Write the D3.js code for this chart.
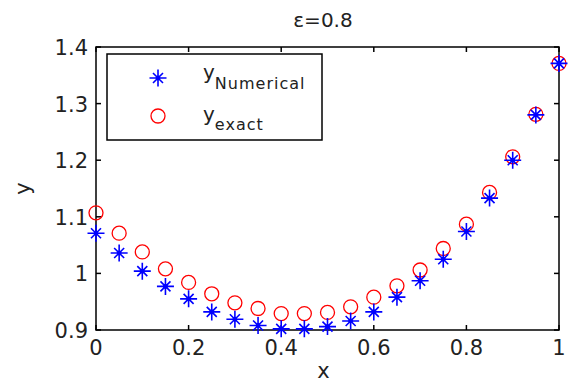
<!DOCTYPE html>
<html lang="en">
<head>
  <meta charset="UTF-8">
  <title>epsilon = 0.8</title>
  <script src="https://d3js.org/d3.v7.min.js"></script>
  <style>
    body { margin: 0; background: #fff; font-family: "DejaVu Sans", sans-serif; }
    .frame { fill: none; stroke: #000; stroke-width: 1.5; }
    .tick-label { font-size: 21px; fill: #222; }
    .star { fill: none; stroke: #0000ff; stroke-width: 1.6; }
    .circ { fill: none; stroke: #ff0000; stroke-width: 1.3; }
  </style>
</head>
<body>
  <svg width="570" height="382"></svg>
  <script>
    const xValues = [0, 0.05, 0.1, 0.15, 0.2, 0.25, 0.3, 0.35, 0.4, 0.45, 0.5,
                     0.55, 0.6, 0.65, 0.7, 0.75, 0.8, 0.85, 0.9, 0.95, 1];
    const yNumerical = [1.071, 1.036, 1.004, 0.977, 0.955, 0.932, 0.919, 0.908, 0.902, 0.902, 0.906,
                        0.916, 0.932, 0.958, 0.987, 1.025, 1.074, 1.133, 1.200, 1.280, 1.371];
    const yExact = [1.107, 1.071, 1.038, 1.008, 0.984, 0.964, 0.948, 0.938, 0.929, 0.929, 0.931,
                    0.941, 0.958, 0.978, 1.006, 1.044, 1.087, 1.143, 1.206, 1.281, 1.371];
    const xTicks = [0, 0.2, 0.4, 0.6, 0.8, 1];
    const yTicks = [0.9, 1, 1.1, 1.2, 1.3, 1.4];

    const svg = d3.select("svg");
    const margin = {top: 47, right: 11, bottom: 52, left: 96};
    const width = 570 - margin.left - margin.right,
          height = 382 - margin.top - margin.bottom;

    const x = d3.scaleLinear().domain([0, 1]).range([0, width]);
    const y = d3.scaleLinear().domain([0.9, 1.4]).range([height, 0]);

    const g = svg.append("g").attr("transform", `translate(${margin.left},${margin.top})`);

    // star marker: plus with shorter diagonals
    function starPath(cx, cy) {
      const a = 8.5, b = 5;
      return `M${cx - a},${cy}L${cx + a},${cy}M${cx},${cy - a}L${cx},${cy + a}` +
             `M${cx - b},${cy - b}L${cx + b},${cy + b}M${cx - b},${cy + b}L${cx + b},${cy - b}`;
    }

    // frame
    g.append("rect").attr("class", "frame")
      .attr("x", 0).attr("y", 0).attr("width", width).attr("height", height);

    // ticks, inward on all four sides
    const tl = 5;
    xTicks.forEach(t => {
      g.append("line").attr("class", "frame")
        .attr("x1", x(t)).attr("x2", x(t)).attr("y1", height).attr("y2", height - tl);
      g.append("line").attr("class", "frame")
        .attr("x1", x(t)).attr("x2", x(t)).attr("y1", 0).attr("y2", tl);
      g.append("text").attr("class", "tick-label")
        .attr("x", x(t)).attr("y", height + 25)
        .attr("text-anchor", "middle")
        .text(d3.format("~g")(t));
    });
    yTicks.forEach(t => {
      g.append("line").attr("class", "frame")
        .attr("x1", 0).attr("x2", tl).attr("y1", y(t)).attr("y2", y(t));
      g.append("line").attr("class", "frame")
        .attr("x1", width).attr("x2", width - tl).attr("y1", y(t)).attr("y2", y(t));
      g.append("text").attr("class", "tick-label")
        .attr("x", -8).attr("y", y(t) + 8)
        .attr("text-anchor", "end")
        .text(d3.format("~g")(t));
    });

    // data
    const pts = xValues.map((v, i) => ({x: v, num: yNumerical[i], ex: yExact[i]}));

    g.selectAll(".circ").data(pts).enter().append("circle")
      .attr("class", "circ")
      .attr("cx", d => x(d.x)).attr("cy", d => y(d.ex)).attr("r", 7);

    g.selectAll(".star").data(pts).enter().append("path")
      .attr("class", "star")
      .attr("d", d => starPath(x(d.x), y(d.num)));
    g.selectAll(".dotc").data(pts).enter().append("circle")
      .attr("fill", "#0000ff")
      .attr("cx", d => x(d.x)).attr("cy", d => y(d.num)).attr("r", 2.4);

    // title and axis labels
    svg.append("text")
      .attr("x", 323).attr("y", 27)
      .attr("text-anchor", "middle").style("font-size", "20px").attr("fill", "#222")
      .text("ε=0.8");
    svg.append("text")
      .attr("x", margin.left + width / 2 - 4).attr("y", 378)
      .attr("text-anchor", "middle").style("font-size", "21px").attr("fill", "#222")
      .text("x");
    svg.append("text")
      .attr("transform", `translate(30,${margin.top + height / 2}) rotate(-90)`)
      .attr("text-anchor", "middle").style("font-size", "21px").attr("fill", "#222")
      .text("y");

    // legend
    const lg = svg.append("g");
    lg.append("rect").attr("class", "frame")
      .attr("x", 107).attr("y", 54).attr("width", 215).attr("height", 86)
      .style("fill", "#fff");
    lg.append("path").attr("class", "star").attr("d", starPath(158, 78));
    lg.append("circle").attr("fill", "#0000ff").attr("cx", 158).attr("cy", 78).attr("r", 2.4);
    lg.append("circle").attr("class", "circ").attr("cx", 158).attr("cy", 116).attr("r", 7);

    const t1 = lg.append("text").attr("x", 203).attr("y", 79).style("font-size", "20px").attr("fill", "#222");
    t1.append("tspan").text("y");
    t1.append("tspan").attr("dy", 10).style("font-size", "16px").style("letter-spacing", "1px").text("Numerical");
    const t2 = lg.append("text").attr("x", 203).attr("y", 121).style("font-size", "20px").attr("fill", "#222");
    t2.append("tspan").text("y");
    t2.append("tspan").attr("dy", 9).style("font-size", "16px").style("letter-spacing", "1px").text("exact");
  </script>
</body>
</html>
